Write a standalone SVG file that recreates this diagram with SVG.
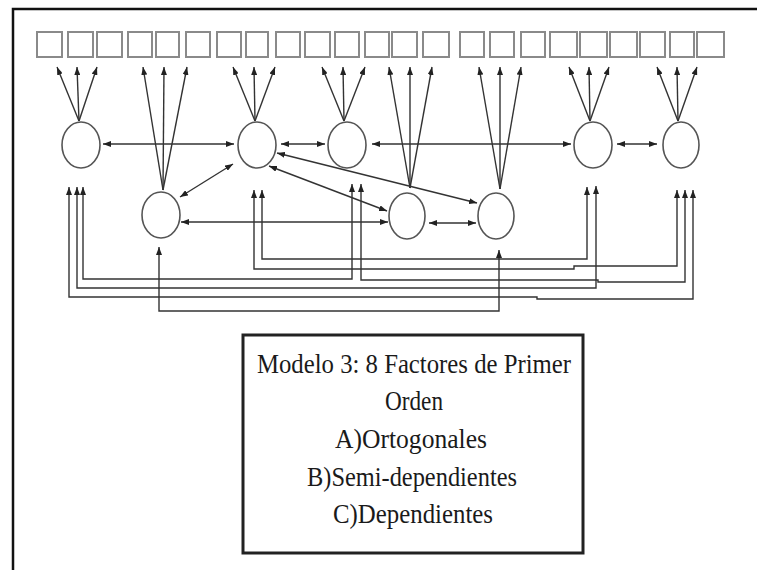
<svg xmlns="http://www.w3.org/2000/svg" width="757" height="570" viewBox="0 0 757 570">
<style>
.box{fill:none;stroke:#8a8a8a;stroke-width:2}
.fac{fill:#fff;stroke:#555;stroke-width:1.6}
.ln{fill:none;stroke:#333;stroke-width:1.4}
.bi{marker-start:url(#ah);marker-end:url(#ah)}
.one{marker-end:url(#ah)}
.lg{font-family:"Liberation Serif","Times New Roman",serif;font-size:28px;fill:#1a1a1a;text-anchor:middle}
</style>
<defs>
<marker id="ah" viewBox="0 0 8 6" refX="8" refY="3" markerWidth="8" markerHeight="6" markerUnits="userSpaceOnUse" orient="auto-start-reverse">
<path d="M0,0 L8,3 L0,6 z" fill="#222"/>
</marker>
</defs>
<rect x="0" y="0" width="757" height="570" fill="#fff"/>
<rect id="frame" x="13" y="9" width="760" height="580" fill="none" stroke="#111" stroke-width="2.5"/>

<g id="items">
<rect class="box" x="37" y="32" width="25" height="25"/>
<rect class="box" x="68" y="32" width="25" height="25"/>
<rect class="box" x="97" y="32" width="25" height="25"/>
<rect class="box" x="128" y="32" width="24" height="25"/>
<rect class="box" x="156" y="32" width="23" height="25"/>
<rect class="box" x="186" y="32" width="24" height="25"/>
<rect class="box" x="217" y="32" width="24" height="25"/>
<rect class="box" x="246" y="32" width="22" height="25"/>
<rect class="box" x="276" y="32" width="24" height="25"/>
<rect class="box" x="305" y="32" width="25" height="25"/>
<rect class="box" x="335" y="32" width="24" height="25"/>
<rect class="box" x="365" y="32" width="24" height="25"/>
<rect class="box" x="392" y="32" width="25" height="25"/>
<rect class="box" x="423" y="32" width="26" height="25"/>
<rect class="box" x="460" y="32" width="24" height="25"/>
<rect class="box" x="490" y="32" width="24" height="25"/>
<rect class="box" x="521" y="32" width="24" height="25"/>
<rect class="box" x="550" y="32" width="27" height="25"/>
<rect class="box" x="580" y="32" width="27" height="25"/>
<rect class="box" x="610" y="32" width="27" height="25"/>
<rect class="box" x="640" y="32" width="25" height="25"/>
<rect class="box" x="670" y="32" width="24" height="25"/>
<rect class="box" x="697" y="32" width="27" height="25"/>
</g>

<g id="connectors">
<path class="ln one" d="M79,121 L57,67"/><path class="ln one" d="M79,121 L77,67"/><path class="ln one" d="M79,121 L97,67"/>
<path class="ln one" d="M163,190 L143,67"/><path class="ln one" d="M163,190 L164,67"/><path class="ln one" d="M163,190 L187,67"/>
<path class="ln one" d="M255,121 L233,67"/><path class="ln one" d="M255,121 L254,67"/><path class="ln one" d="M255,121 L275,67"/>
<path class="ln one" d="M344,121 L322,67"/><path class="ln one" d="M344,121 L343,67"/><path class="ln one" d="M344,121 L365,67"/>
<path class="ln one" d="M410,188 L389,67"/><path class="ln one" d="M410,188 L410,67"/><path class="ln one" d="M410,188 L432,67"/>
<path class="ln one" d="M500,189 L479,67"/><path class="ln one" d="M500,189 L500,67"/><path class="ln one" d="M500,189 L521,67"/>
<path class="ln one" d="M590,121 L569,67"/><path class="ln one" d="M590,121 L589,67"/><path class="ln one" d="M590,121 L609,67"/>
<path class="ln one" d="M678,121 L657,67"/><path class="ln one" d="M678,121 L677,67"/><path class="ln one" d="M678,121 L697,67"/>
<path class="ln bi" d="M103,144 L234,144"/>
<path class="ln bi" d="M281,144 L325,144"/>
<path class="ln bi" d="M372,144 L571,144"/>
<path class="ln bi" d="M617,144 L657,144"/>
<path class="ln bi" d="M277,153 L477,203"/>
<path class="ln bi" d="M269,166 L387,211"/>
<path class="ln bi" d="M180,197 L233,164"/>
<path class="ln bi" d="M181,222 L388,222"/>
<path class="ln bi" d="M429,223 L476,223"/>
<path class="ln bi" d="M83,187 V279 H352 V184"/>
<path class="ln bi" d="M77,187 V288 H596 V186"/>
<path class="ln bi" d="M69,187 V297 H537 V299 H693 V190"/>
<path class="ln bi" d="M262,190 V259 H587 V187"/>
<path class="ln bi" d="M254,190 V269 H574 V266 H677 V190"/>
<path class="ln bi" d="M361,184 V280 H598 V282 H685 V190"/>
<path class="ln bi" d="M159,247 V311 H499 V250"/>
</g>

<g id="F1"><ellipse class="fac" cx="81" cy="145" rx="19" ry="23"/></g>
<g id="F2"><ellipse class="fac" cx="161" cy="215" rx="19" ry="23"/></g>
<g id="F3"><ellipse class="fac" cx="257" cy="145" rx="19" ry="23"/></g>
<g id="F4"><ellipse class="fac" cx="347" cy="145" rx="19" ry="23"/></g>
<g id="F5"><ellipse class="fac" cx="407" cy="216" rx="18" ry="23"/></g>
<g id="F6"><ellipse class="fac" cx="496" cy="216" rx="18" ry="23"/></g>
<g id="F7"><ellipse class="fac" cx="593" cy="145" rx="19" ry="23"/></g>
<g id="F8"><ellipse class="fac" cx="681" cy="145" rx="18" ry="23"/></g>

<g id="legend">
<rect x="243" y="335" width="340" height="218" fill="#fff" stroke="#222" stroke-width="3"/>
<text class="lg" x="414" y="373" textLength="314" lengthAdjust="spacingAndGlyphs">Modelo 3: 8 Factores de Primer</text>
<text class="lg" x="414" y="410" textLength="58" lengthAdjust="spacingAndGlyphs">Orden</text>
<text class="lg" x="411" y="448" textLength="152" lengthAdjust="spacingAndGlyphs">A)Ortogonales</text>
<text class="lg" x="412" y="486" textLength="210" lengthAdjust="spacingAndGlyphs">B)Semi-dependientes</text>
<text class="lg" x="413" y="523" textLength="160" lengthAdjust="spacingAndGlyphs">C)Dependientes</text>
</g>
</svg>
